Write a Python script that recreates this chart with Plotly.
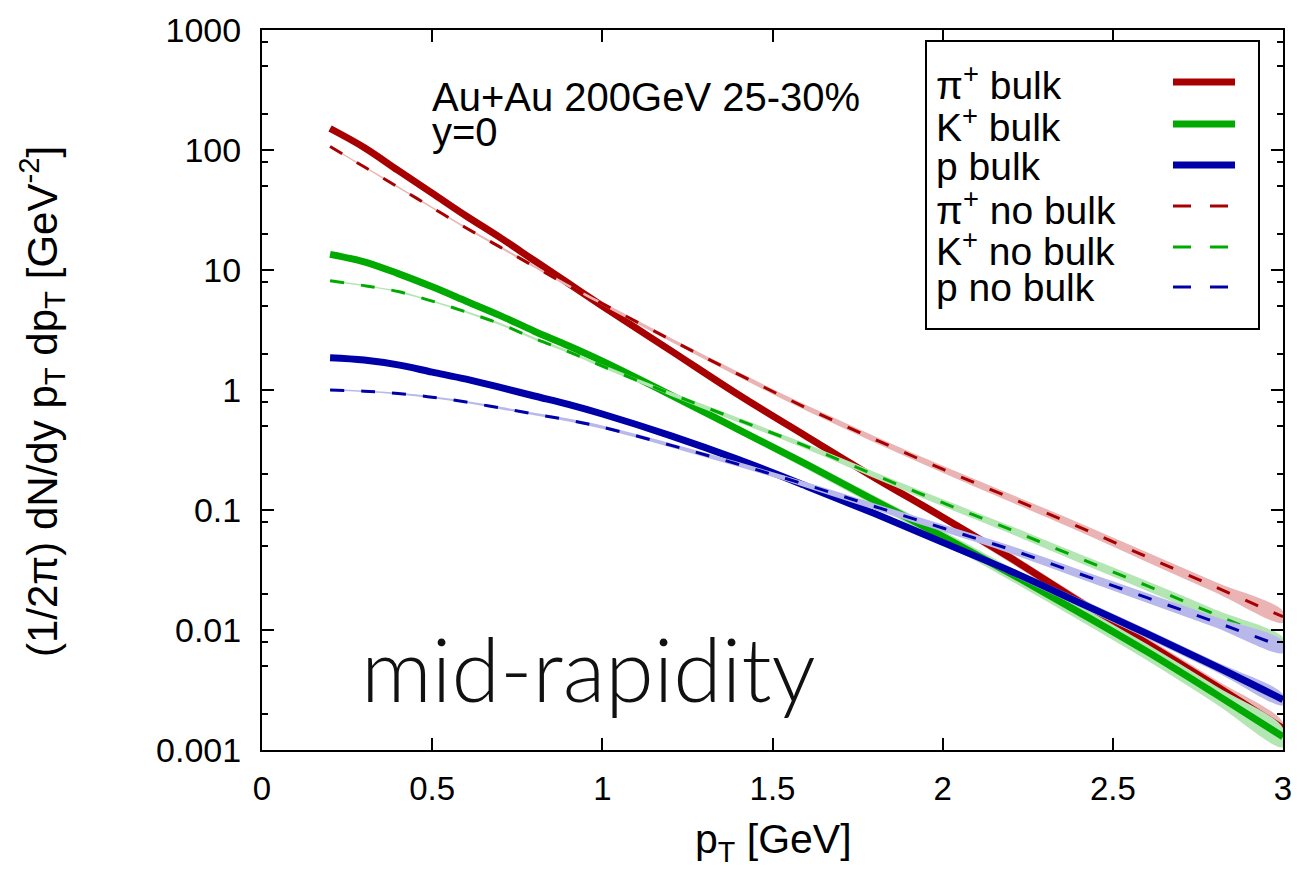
import plotly.graph_objects as go

# transverse momentum grid [GeV]
PT = [0.2, 0.3, 0.4, 0.5, 0.6, 0.7, 0.8, 0.9, 1.0, 1.2, 1.4, 1.6, 1.8, 2.0,
      2.2, 2.4, 2.6, 2.8, 3.0]

# (1/2pi) dN/dy pT dpT with bulk viscosity
PI_BULK = [151, 105, 67.6, 43.7, 28.2, 18.6, 12.0, 7.76, 5.01, 2.14, 0.912,
           0.41, 0.186, 0.0871, 0.0398, 0.0174, 0.00776, 0.00347, 0.00151]
K_BULK = [13.5, 11.7, 9.33, 7.24, 5.50, 4.17, 3.09, 2.34, 1.74, 0.912, 0.468,
          0.240, 0.120, 0.0603, 0.0295, 0.0141, 0.00661, 0.00295, 0.00129]
P_BULK = [1.86, 1.78, 1.62, 1.41, 1.23, 1.05, 0.891, 0.759, 0.631, 0.417,
          0.263, 0.158, 0.0933, 0.0537, 0.0309, 0.0170, 0.00933, 0.00501,
          0.00263]

# same spectra without bulk viscosity
PI_NOBULK = [107, 72.4, 49.0, 33.1, 22.4, 15.5, 10.7, 7.41, 5.25, 2.63, 1.35,
             0.708, 0.389, 0.219, 0.126, 0.0724, 0.0407, 0.0229, 0.0129]
K_NOBULK = [8.13, 7.41, 6.61, 5.50, 4.47, 3.55, 2.69, 2.09, 1.58, 0.933,
            0.562, 0.339, 0.196, 0.115, 0.0685, 0.0398, 0.0234, 0.0135,
            0.00776]
P_NOBULK = [1.00, 0.977, 0.933, 0.871, 0.794, 0.708, 0.631, 0.562, 0.490,
            0.347, 0.240, 0.162, 0.107, 0.0708, 0.0468, 0.0295, 0.0186,
            0.0117, 0.00724]

# relative statistical half-widths of the event-averaged spectra
REL_ERR_BULK = [0.02, 0.02, 0.02, 0.025, 0.025, 0.03, 0.03, 0.035, 0.04,
                0.045, 0.05, 0.06, 0.07, 0.08, 0.09, 0.10, 0.11, 0.12, 0.13]
REL_ERR_NOBULK = [0.014, 0.014, 0.016, 0.018, 0.02, 0.022, 0.025, 0.028,
                  0.032, 0.038, 0.045, 0.052, 0.06, 0.067, 0.075, 0.083,
                  0.092, 0.10, 0.11]

LEGEND_LABELS = ["π<sup>+</sup> bulk", "K<sup>+</sup> bulk", "p bulk",
                 "π<sup>+</sup> no bulk", "K<sup>+</sup> no bulk", "p no bulk"]

RED, GREEN, BLUE = "#a80000", "#00aa00", "#0000a8"
RED_L, GREEN_L, BLUE_L = "#ebb4b4", "#b4e6b4", "#b8b8ea"

series = [
    (PI_BULK, REL_ERR_BULK, 1.0, RED, RED_L, "solid"),
    (K_BULK, REL_ERR_BULK, 1.4, GREEN, GREEN_L, "solid"),
    (P_BULK, REL_ERR_BULK, 0.8, BLUE, BLUE_L, "solid"),
    (PI_NOBULK, REL_ERR_NOBULK, 1.0, RED, RED_L, "dash"),
    (K_NOBULK, REL_ERR_NOBULK, 1.0, GREEN, GREEN_L, "dash"),
    (P_NOBULK, REL_ERR_NOBULK, 1.0, BLUE, BLUE_L, "dash"),
]

FONT = "Liberation Sans, Arial, Helvetica, sans-serif"
DASH = "14px,17px"

fig = go.Figure()
for vals, rel, scale, col, col_l, style in series:
    lo = [v * (1 - scale * e) for v, e in zip(vals, rel)]
    hi = [v * (1 + scale * e) for v, e in zip(vals, rel)]
    fig.add_trace(go.Scatter(
        x=PT + PT[::-1], y=lo + hi[::-1], mode="lines", fill="toself",
        fillcolor=col_l, line=dict(width=0, shape="spline"),
        hoverinfo="skip", showlegend=False))
    fig.add_trace(go.Scatter(
        x=PT, y=vals, mode="lines", showlegend=False,
        line=dict(color=col, width=7 if style == "solid" else 3,
                  dash="solid" if style == "solid" else DASH,
                  shape="spline")))

# plot frame in pixels: x 262..1283, y 30..750
def px(x):
    return (x - 262) / 1021.0


def py(y):
    return (750 - y) / 720.0


decades = [0.001, 0.01, 0.1, 1, 10, 100, 1000]
minor_vals = [d * m for d in decades[:-1] for m in (2, 5, 8)]

fig.update_xaxes(
    range=[0, 3], tickvals=[0, 0.5, 1, 1.5, 2, 2.5, 3],
    ticktext=["0", "0.5", "1", "1.5", "2", "2.5", "3"],
    ticks="inside", ticklen=12, tickwidth=1.5, tickcolor="black",
    showline=True, linewidth=2, linecolor="black", mirror="ticks",
    showgrid=False, zeroline=False, ticklabelstandoff=8,
    tickfont=dict(family=FONT, size=33, color="black"),
)
fig.update_yaxes(
    type="log", range=[-3, 3], tickvals=decades,
    ticktext=["0.001", "0.01", "0.1", "1", "10", "100", "1000"],
    ticks="inside", ticklen=12, tickwidth=1.5, tickcolor="black",
    minor=dict(tickvals=minor_vals, ticks="inside", ticklen=6, tickwidth=1.5,
               tickcolor="black", showgrid=False),
    showline=True, linewidth=2, linecolor="black", mirror="ticks",
    showgrid=False, zeroline=False, ticklabelstandoff=12,
    tickfont=dict(family=FONT, size=34, color="black"),
)

ann = []
# axis titles
ann.append(dict(text="(1/2π) dN/dy p<sub>T</sub> dp<sub>T</sub> [GeV<sup>-2</sup>]",
                x=px(42), y=py(402), xref="paper", yref="paper",
                textangle=-90, showarrow=False, xanchor="center",
                yanchor="middle", font=dict(family=FONT, size=42, color="black")))
ann.append(dict(text="p<sub>T</sub> [GeV]", x=px(773), y=py(842),
                xref="paper", yref="paper", showarrow=False,
                xanchor="center", yanchor="middle",
                font=dict(family=FONT, size=41, color="black")))
# labels inside the plot
ann.append(dict(text="Au+Au 200GeV 25-30%", x=px(430), y=py(97),
                xref="paper", yref="paper", showarrow=False, xanchor="left",
                yanchor="middle", font=dict(family=FONT, size=40, color="black")))
ann.append(dict(text="y=0", x=px(430), y=py(132),
                xref="paper", yref="paper", showarrow=False, xanchor="left",
                yanchor="middle", font=dict(family=FONT, size=40, color="black")))
ann.append(dict(text="mid-rapidity", x=px(359), y=py(668),
                xref="paper", yref="paper", showarrow=False, xanchor="left",
                yanchor="middle",
                font=dict(family="Lato, Roboto, sans-serif", size=88,
                          color="#111111", weight=300)))

# key box
shapes = [dict(type="rect", xref="paper", yref="paper",
               x0=px(926), x1=px(1259), y0=py(41), y1=py(329),
               line=dict(color="black", width=2), fillcolor="white",
               layer="above")]
row_y = [82, 124, 165, 206, 247, 287]
for (vals, rel, scale, col, col_l, style), lab, yy in zip(series, LEGEND_LABELS, row_y):
    ann.append(dict(text=lab, x=px(934), y=py(yy + 1), xref="paper",
                    yref="paper", showarrow=False, xanchor="left",
                    yanchor="middle",
                    font=dict(family=FONT, size=39, color="black")))
    if style == "solid":
        shapes.append(dict(type="line", xref="paper", yref="paper",
                           x0=px(1173), x1=px(1235), y0=py(yy), y1=py(yy),
                           line=dict(color=col, width=7), layer="above"))
    else:
        for a, b in ((1173, 1191), (1210, 1228)):
            shapes.append(dict(type="line", xref="paper", yref="paper",
                               x0=px(a), x1=px(b), y0=py(yy), y1=py(yy),
                               line=dict(color=col, width=3), layer="above"))

fig.update_layout(
    width=1305, height=873,
    margin=dict(l=262, r=22, t=30, b=123),
    paper_bgcolor="white", plot_bgcolor="white",
    showlegend=False, annotations=ann, shapes=shapes,
)

fig.write_html("out.html")
